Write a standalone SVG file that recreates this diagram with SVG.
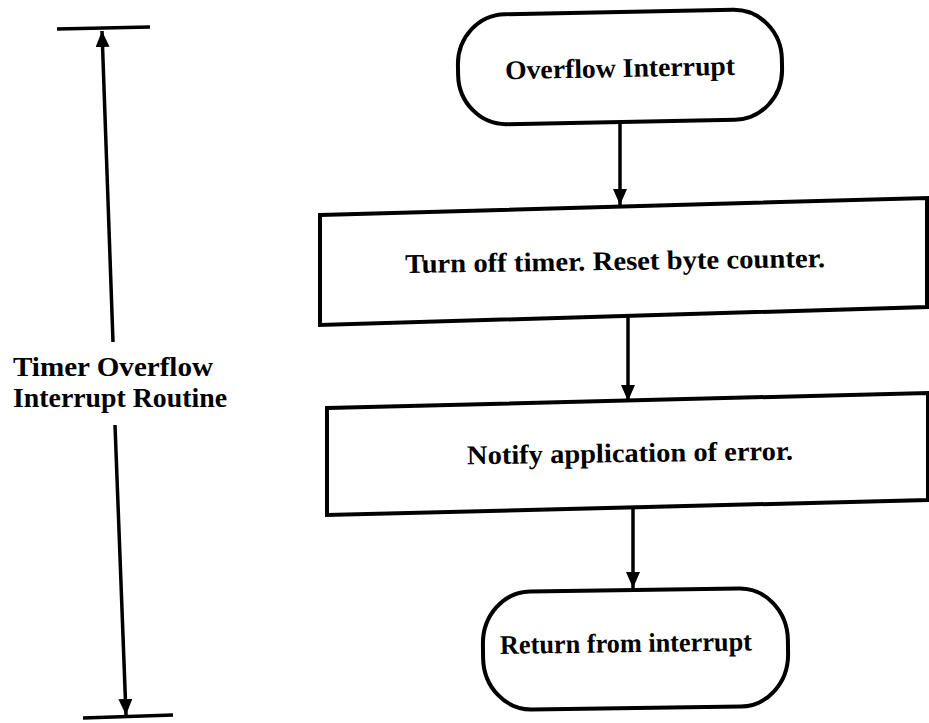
<svg xmlns="http://www.w3.org/2000/svg" width="929" height="723" viewBox="0 0 929 723">
<style>
.shape{fill:#fff;stroke:#000;stroke-width:4;stroke-linejoin:miter}
.lbl{font-family:"Liberation Serif","Times New Roman",serif;font-weight:bold;font-size:27px;fill:#000}
.mid{text-anchor:middle}
.conn{stroke:#000;stroke-width:3.5;fill:none}
</style>
<defs>
<marker id="arr" markerUnits="userSpaceOnUse" markerWidth="16" markerHeight="14" refX="16" refY="7" orient="auto">
<path d="M0,0 L16,7 L0,14 z" fill="#000"/>
</marker>
</defs>
<rect width="929" height="723" fill="#fff"/>

<g id="connectors">
<line class="conn" x1="620" y1="122" x2="620" y2="205" marker-end="url(#arr)"/>
<line class="conn" x1="628" y1="316" x2="628" y2="401" marker-end="url(#arr)"/>
<line class="conn" x1="633" y1="508" x2="633" y2="588" marker-end="url(#arr)"/>
<line class="conn" x1="57" y1="29" x2="150" y2="27"/>
<line class="conn" x1="113" y1="342" x2="102" y2="31" marker-end="url(#arr)"/>
<line class="conn" x1="115" y1="425" x2="126" y2="715" marker-end="url(#arr)"/>
<line class="conn" x1="83" y1="718" x2="173" y2="715"/>
</g>

<g id="label-routine">
<text class="lbl" x="13" y="376" textLength="200" lengthAdjust="spacingAndGlyphs">Timer Overflow</text>
<text class="lbl" x="13" y="407" textLength="214" lengthAdjust="spacingAndGlyphs">Interrupt Routine</text>
</g>

<g id="node-overflow" transform="rotate(-1.1 620 67)">
<rect class="shape" x="458" y="12" width="324" height="110" rx="48" ry="50"/>
<text class="lbl mid" x="620" y="77" textLength="230" lengthAdjust="spacingAndGlyphs">Overflow Interrupt</text>
</g>

<g id="node-turnoff">
<polygon class="shape" points="320,215 927,198 927,307 320,325"/>
<text class="lbl mid" x="615" y="270" textLength="420" lengthAdjust="spacingAndGlyphs" transform="rotate(-0.8 615 262)">Turn off timer. Reset byte counter.</text>
</g>

<g id="node-notify">
<polygon class="shape" points="327,408 928,393 928,500 327,515"/>
<text class="lbl mid" x="630" y="462" textLength="326" lengthAdjust="spacingAndGlyphs" transform="rotate(-0.8 630 455)">Notify application of error.</text>
</g>

<g id="node-return" transform="rotate(-0.8 635 649)">
<rect class="shape" x="483" y="590" width="305" height="118" rx="48" ry="52"/>
<text class="lbl mid" x="626" y="652" textLength="252" lengthAdjust="spacingAndGlyphs">Return from interrupt</text>
</g>
</svg>
